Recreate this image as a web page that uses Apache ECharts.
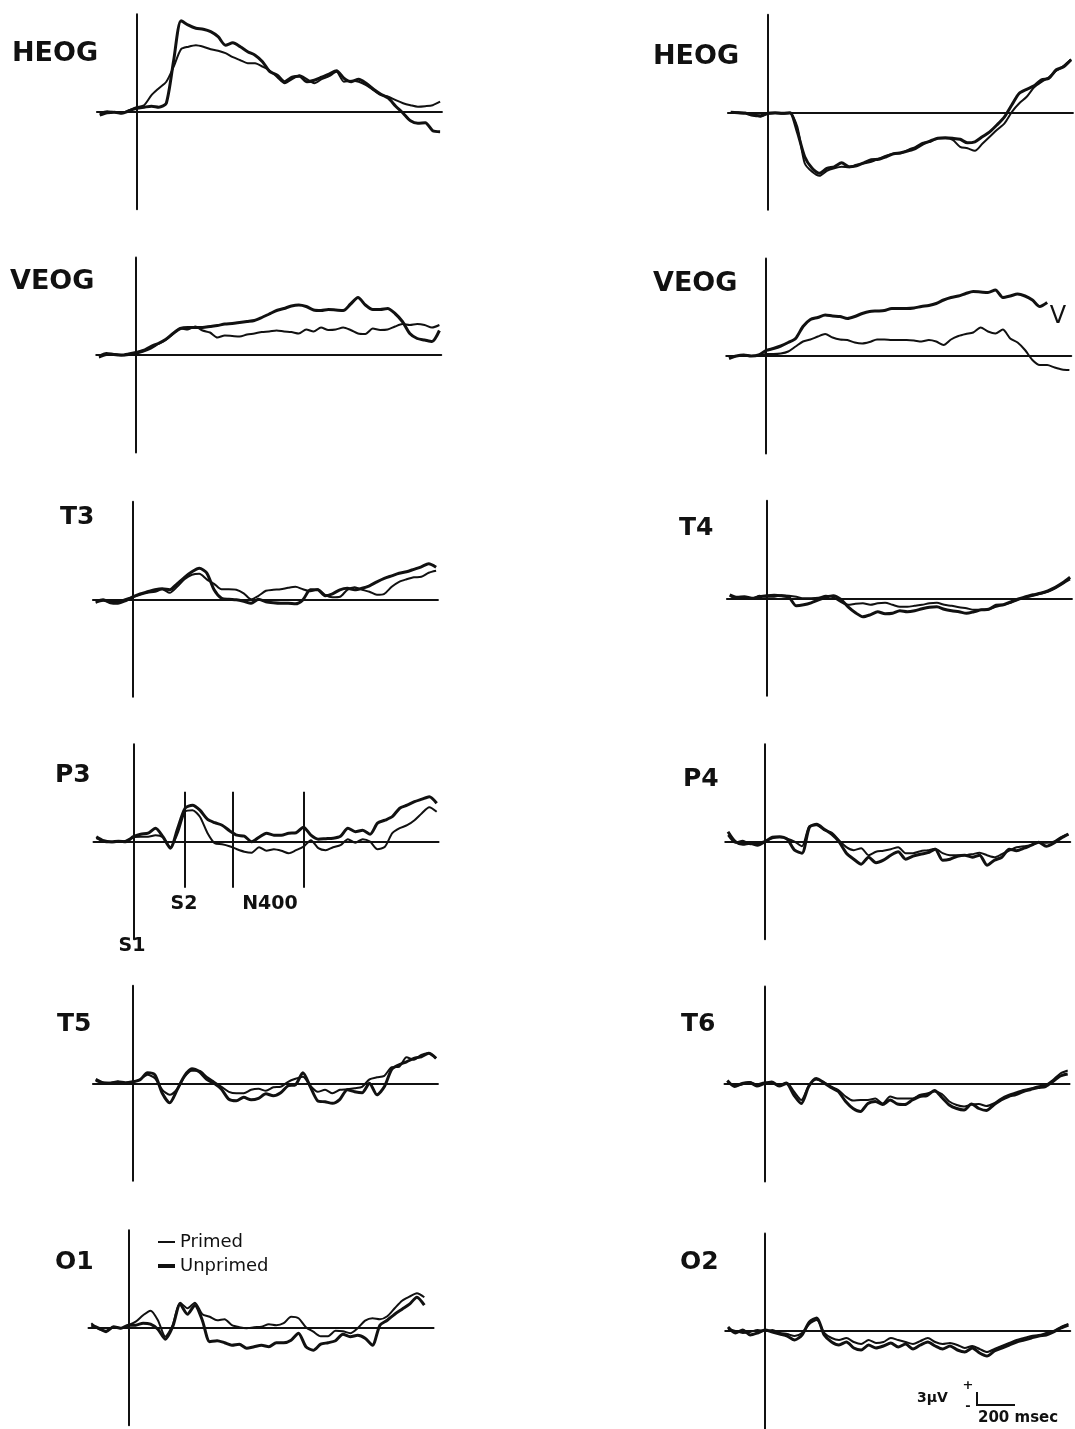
<!DOCTYPE html>
<html>
<head>
<meta charset="utf-8">
<script src="https://cdn.jsdelivr.net/npm/echarts@6/dist/echarts.min.js"></script>
<style>
  html, body { margin: 0; background: #fff; }
  #chart { width: 1075px; height: 1429px; }
</style>
</head>
<body>
<div id="chart"></div>
<script>
// time of each sample, ms from S1
const times = [-200, -160, -120, -80, -40, 0, 40, 80, 120, 160, 200, 240, 280, 320, 360, 400,
  440, 480, 520, 560, 600, 640, 680, 720, 760, 800, 840, 880, 920, 960, 1000, 1040, 1080,
  1120, 1160, 1200, 1240, 1280, 1320, 1360, 1400, 1440, 1480, 1520, 1560, 1600, 1640];

// amplitudes in µV, positive up
const heogLUnprimed = [-0.7,-0.2,-0.1,-0.3,0.2,0.7,0.9,1.1,0.9,1.7,10.3,18.2,17.3,16.7,16.5,16.0,15.0,13.3,13.8,13.0,12.0,11.3,10.0,8.0,7.3,6.0,6.9,7.1,6.0,6.3,6.9,7.5,8.2,6.7,6.0,6.5,5.7,4.5,3.5,2.7,1.1,-0.3,-1.8,-2.3,-2.2,-3.8,-4.0];
const heogLPrimed = [-0.3,0.1,-0.1,-0.2,0.3,0.9,1.3,3.3,4.7,6.0,9.0,12.5,13.0,13.3,13.0,12.5,12.2,11.7,10.9,10.3,9.7,9.7,9.0,8.2,6.9,5.7,6.5,7.3,6.5,5.7,6.5,7.1,8.0,6.0,6.2,6.0,5.3,4.3,3.3,3.0,2.3,1.7,1.3,1.0,1.1,1.3,2.0];
const heogRUnprimed = [0,-0.1,-0.2,-0.6,-0.7,-0.2,-0.1,-0.2,-0.1,-3.9,-8.9,-11.2,-12.2,-11.2,-10.9,-10.1,-10.9,-10.7,-10.1,-9.5,-9.4,-8.9,-8.3,-8.1,-7.7,-7.2,-6.3,-5.7,-5.2,-5.1,-5.2,-5.4,-6.1,-5.9,-4.9,-3.9,-2.5,-0.9,1.5,3.8,4.6,5.3,6.5,6.8,8.5,9.1,10.5];
const heogRPrimed = [-0.1,0,-0.1,-0.3,-0.9,-0.3,-0.2,-0.3,-0.2,-2.9,-10.2,-11.9,-12.7,-11.7,-11.2,-10.9,-11.0,-10.5,-10.2,-9.9,-9.3,-8.7,-8.3,-8.2,-7.5,-6.9,-6.1,-5.9,-5.2,-5.2,-5.5,-6.9,-7.2,-7.7,-6.3,-4.9,-3.5,-2.2,0.1,1.8,3.1,5.0,6.1,7.0,8.3,9.3,10.6];
const veogLUnprimed = [-0.3,0.3,0.1,0,0.2,0.5,0.9,1.7,2.3,3.1,4.3,5.3,5.5,5.5,5.5,5.7,5.9,6.2,6.3,6.5,6.7,6.9,7.5,8.2,8.9,9.3,9.8,10.0,9.7,9.0,8.9,9.1,9.0,8.9,10.2,11.5,10.0,9.1,9.1,9.3,8.3,6.7,4.3,3.3,3.0,2.7,4.9];
const veogLPrimed = [-0.5,0,0.2,-0.1,0,0.3,0.7,1.3,2.2,3.0,4.2,5.3,5.1,5.7,4.9,4.5,3.5,3.9,3.8,3.7,4.1,4.3,4.6,4.7,4.9,4.7,4.6,4.3,5.1,4.7,5.5,5.0,5.1,5.5,5.0,4.3,4.2,5.3,5.0,5.1,5.7,6.2,6.0,6.2,6.0,5.5,6.0];
const veogRUnprimed = [-0.5,0,0.2,0,0.2,1.1,1.5,2.0,2.7,3.5,5.9,7.3,7.7,8.2,8.0,7.9,7.5,7.9,8.5,8.9,9.0,9.1,9.5,9.5,9.5,9.6,9.9,10.1,10.5,11.2,11.7,12.0,12.5,12.9,12.8,12.7,13.2,11.7,12.0,12.4,12.0,11.2,9.9,10.7,null,null,null];
const veogRPrimed = [-0.3,0,0.1,0,0.1,0.4,0.4,0.5,0.9,1.9,2.9,3.3,3.9,4.4,3.7,3.3,3.2,2.7,2.5,2.8,3.3,3.3,3.2,3.2,3.2,3.1,2.9,3.2,2.9,2.2,3.3,4.0,4.4,4.7,5.7,4.9,4.5,5.3,3.5,2.7,1.2,-0.8,-1.8,-1.8,-2.3,-2.7,-2.8];
const t3Unprimed = [-0.5,-0.1,-0.7,-0.8,-0.3,0.5,1.1,1.5,1.9,2.1,1.9,3.1,4.4,5.5,6.2,5.3,1.9,0.2,0,-0.1,-0.4,-0.8,0,-0.5,-0.7,-0.8,-0.8,-0.9,-0.1,1.9,1.9,0.7,1.1,1.9,2.2,1.9,2.2,2.7,3.5,4.2,4.7,5.2,5.5,6.0,6.5,7.1,6.4];
const t3Primed = [-0.7,-0.3,-0.5,-0.5,0,0.4,0.9,1.3,1.5,2.0,1.3,2.5,4.0,4.9,5.1,4.0,3.1,2.0,2.0,1.9,1.2,0,0.7,1.7,1.9,2.0,2.3,2.5,2.0,1.6,2.0,0.9,0.4,0.5,1.9,2.4,1.9,1.5,0.9,1.1,2.5,3.5,4.0,4.4,4.5,5.3,5.7];
const t4Unprimed = [0.7,0.2,0.3,0,0.3,0.5,0.6,0.5,0.2,-1.5,-1.3,-0.9,-0.3,0.2,0.5,-0.2,-1.7,-2.9,-3.7,-3.3,-2.7,-3.1,-3.0,-2.5,-2.7,-2.5,-2.1,-1.8,-1.7,-2.2,-2.5,-2.7,-3.0,-2.7,-2.3,-2.2,-1.4,-1.3,-0.7,-0.1,0.3,0.7,1.0,1.5,2.2,3.1,4.2];
const t4Primed = [0.5,0,0.2,-0.1,0.5,0.3,0.3,0.6,0.5,0.3,0,0,0.1,0.5,0.2,-0.7,-1.3,-1.1,-1.0,-1.3,-1.0,-0.9,-1.3,-1.7,-1.7,-1.5,-1.3,-1.0,-0.9,-1.3,-1.5,-1.8,-2.0,-2.3,-2.3,-2.2,-1.7,-1.3,-0.9,-0.3,0.2,0.5,0.9,1.3,2.0,2.9,3.8];
const p3Unprimed = [1.0,0.2,0,0.1,0,1.0,1.5,1.7,2.7,1.0,-1.3,2.7,6.7,7.3,6.3,4.5,3.8,3.3,2.2,1.3,1.1,0,0.9,1.7,1.3,1.3,1.7,1.8,2.9,1.3,0.5,0.6,0.7,1.1,2.7,2.0,2.3,1.5,3.7,4.3,5.0,6.7,7.3,8.0,8.5,9.0,7.7];
const p3Primed = [0.7,0,-0.1,0,0.2,0.9,1.0,1.0,1.3,0.9,-1.1,1.7,6.0,6.3,5.0,1.8,-0.3,-0.5,-0.9,-1.5,-2.0,-2.2,-1.1,-1.8,-1.5,-1.8,-2.3,-1.7,-1.0,0.3,-1.3,-1.7,-1.1,-0.7,0.5,-0.2,0.5,0,-1.5,-1.0,1.7,2.7,3.3,4.3,5.7,6.9,6.0];
const p4Unprimed = [2.0,0,-0.5,-0.3,-0.7,0,0.9,1.0,0.5,-1.7,-2.3,2.9,3.5,2.5,1.5,0,-2.3,-3.5,-4.5,-3.1,-4.2,-3.7,-2.7,-2.0,-3.5,-2.9,-2.5,-2.2,-1.5,-3.7,-3.5,-2.9,-2.7,-3.1,-2.7,-4.7,-3.7,-3.1,-1.5,-1.8,-1.3,-0.7,-0.1,-0.9,-0.3,0.7,1.5];
const p4Primed = [1.3,-0.2,0.2,-0.5,-0.3,0.1,0.7,0.9,0.6,0,-0.9,3.1,3.3,2.3,1.8,0.3,-1.1,-1.7,-1.3,-2.7,-2.0,-1.8,-1.5,-1.1,-2.3,-2.3,-1.9,-1.7,-1.4,-2.3,-2.7,-2.7,-2.7,-2.5,-2.2,-2.7,-3.1,-2.5,-1.8,-1.1,-0.9,-0.7,-0.1,-0.2,0,0.9,1.5];
const t5Unprimed = [0.8,0.1,0,0.3,0.1,0.3,0.7,2.1,1.7,-2.0,-3.9,-1.3,1.5,2.9,2.3,0.8,0,-1.2,-3.2,-3.5,-2.8,-3.3,-3.0,-2.1,-2.5,-1.9,-0.5,-0.3,2.1,-0.7,-3.5,-3.7,-4.0,-3.2,-1.3,-1.7,-1.9,0,-2.3,-0.7,2.8,3.7,4.3,5.0,5.3,6.0,5.0];
const t5Primed = [0.5,0.1,0.1,0.3,0,0.2,0.8,1.7,1.0,-1.3,-2.3,-1.2,1.3,2.5,2.5,1.3,0.3,-0.7,-1.7,-2.0,-2.0,-1.3,-1.1,-1.5,-0.8,-0.7,0.3,0.9,1.3,-0.5,-1.7,-1.3,-2.0,-1.3,-1.2,-1.0,-0.7,0.8,1.2,1.5,3.2,3.3,5.2,4.7,5.7,6.0,5.0];
const t6Unprimed = [0.7,-0.5,0.1,0.3,-0.4,0.1,0.4,-0.4,0.1,-2.2,-3.9,-0.5,1.1,0.3,-0.7,-1.5,-3.5,-4.9,-5.5,-3.9,-3.5,-4.1,-3.2,-4.0,-4.1,-3.2,-2.5,-2.3,-1.3,-2.7,-4.2,-4.9,-5.2,-4.0,-4.9,-5.3,-4.2,-3.2,-2.5,-2.1,-1.5,-1.1,-0.7,-0.5,0.5,1.6,2.0];
const t6Primed = [0.5,-0.3,-0.1,0.4,-0.1,0.3,0.1,-0.2,0.3,-1.5,-3.2,-0.4,0.9,0.4,-0.5,-1.2,-2.5,-3.3,-3.2,-3.2,-2.9,-3.9,-2.5,-2.9,-2.9,-2.9,-2.2,-1.9,-1.5,-2.0,-3.5,-4.2,-4.5,-4.1,-4.0,-4.4,-3.9,-2.9,-2.2,-1.7,-1.2,-0.9,-0.5,-0.2,0.8,2.1,2.7];
const o1Primed = [0.9,-0.3,-0.6,0.1,-0.1,0.5,1.2,2.5,3.4,1.5,-1.8,0.5,5.0,3.9,5.0,2.7,2.2,1.5,1.7,0.5,0.1,-0.1,0.1,0.2,0.7,0.5,0.9,2.2,1.9,0.1,-0.8,-1.7,-1.7,-0.6,-0.7,-1.1,-0.1,1.4,1.9,1.7,2.3,3.9,5.4,6.2,6.9,6.1,null];
const o1Unprimed = [0.5,-0.1,-0.8,0.2,-0.1,0.5,0.5,0.9,0.7,-0.3,-2.3,0.2,4.7,2.7,4.5,1.5,-2.8,-2.6,-3.0,-3.5,-3.3,-4.1,-3.8,-3.5,-3.8,-3.0,-3.0,-2.5,-1.1,-3.8,-4.5,-3.3,-3.0,-2.6,-1.3,-1.8,-1.5,-2.1,-3.5,0.5,1.5,2.7,3.7,4.7,6.1,4.5,null];
const o2Unprimed = [0.8,-0.4,0.2,-0.8,-0.4,0.2,-0.2,-0.6,-1.0,-1.8,-0.8,1.8,2.6,-0.8,-2.2,-2.8,-2.2,-3.4,-3.8,-2.8,-3.4,-3.0,-2.4,-3.2,-2.6,-3.6,-2.8,-2.2,-3.0,-3.6,-3.0,-3.8,-4.2,-3.4,-4.4,-5.0,-4.0,-3.4,-2.8,-2.2,-1.8,-1.4,-1.0,-0.8,-0.2,0.6,1.2];
const o2Primed = [0.4,0,-0.4,-0.2,0.2,0,0.2,-0.4,-0.6,-1.0,-0.4,1.4,2.2,-0.4,-1.4,-1.8,-1.4,-2.2,-2.6,-1.8,-2.4,-2.2,-1.4,-1.8,-2.2,-2.6,-2.0,-1.4,-2.2,-2.6,-2.4,-2.8,-3.4,-3.0,-3.6,-4.2,-3.6,-3.0,-2.4,-1.8,-1.4,-1.0,-0.8,-0.4,0,0.8,1.4];

// S2 and N400 window markers on P3 (ms)
const p3Marks = [280, 540, 920];
const p3MarkNames = ['S2', 'N400 start', 'N400 end'];

const ink = '#111';
const MS_PX = 0.185;   // 200 ms = 37 px
const UV_PX = 5;       // 3 µV = 15 px
const T_MIN = -215, T_MAX = 1650, V_LIM = 19.5;

const panels = [
  { label: 'HEOG', s1x: 136.7, base: 111.7, lx: 12, ly: 54, thin: heogLPrimed, thick: heogLUnprimed },
  { label: 'VEOG', s1x: 136, base: 355, lx: 10, ly: 282, thin: veogLPrimed, thick: veogLUnprimed },
  { label: 'T3', s1x: 132.7, base: 599.3, lx: 60, ly: 517, thin: t3Primed, thick: t3Unprimed },
  { label: 'P3', s1x: 133.3, base: 841.7, lx: 55, ly: 775, thin: p3Primed, thick: p3Unprimed, marks: true },
  { label: 'T5', s1x: 132.7, base: 1083.3, lx: 57, ly: 1024, thin: t5Primed, thick: t5Unprimed },
  { label: 'O1', s1x: 128.3, base: 1327.7, lx: 55, ly: 1262, thin: o1Primed, thick: o1Unprimed },
  { label: 'HEOG', s1x: 767.7, base: 112.3, lx: 653, ly: 57, thin: heogRPrimed, thick: heogRUnprimed },
  { label: 'VEOG', s1x: 766, base: 356, lx: 653, ly: 284, thin: veogRPrimed, thick: veogRUnprimed },
  { label: 'T4', s1x: 766.7, base: 598.3, lx: 679, ly: 528, thin: t4Primed, thick: t4Unprimed },
  { label: 'P4', s1x: 765, base: 841.7, lx: 683, ly: 779, thin: p4Primed, thick: p4Unprimed },
  { label: 'T6', s1x: 764.3, base: 1084, lx: 681, ly: 1024, thin: t6Primed, thick: t6Unprimed },
  { label: 'O2', s1x: 765, base: 1331, lx: 680, ly: 1262, thin: o2Primed, thick: o2Unprimed }
];

const pairs = arr => times.map((t, k) => [t, arr[k]]);
const hidden = { axisTick: { show: false }, axisLabel: { show: false }, splitLine: { show: false } };

const grid = [], xAxis = [], yAxis = [], series = [];
const graphic = [];

panels.forEach((p, i) => {
  grid.push({
    left: p.s1x + T_MIN * MS_PX,
    top: p.base - V_LIM * UV_PX,
    width: (T_MAX - T_MIN) * MS_PX,
    height: 2 * V_LIM * UV_PX
  });
  xAxis.push(Object.assign({
    gridIndex: i, type: 'value', min: T_MIN, max: T_MAX,
    axisLine: { show: true, onZero: true, lineStyle: { color: ink, width: 2 } }
  }, hidden));
  yAxis.push(Object.assign({
    gridIndex: i, type: 'value', min: -V_LIM, max: V_LIM,
    axisLine: { show: true, onZero: true, lineStyle: { color: ink, width: 2 } }
  }, hidden));

  const common = {
    type: 'line', xAxisIndex: i, yAxisIndex: i, symbol: 'none', smooth: 0.25,
    silent: true, itemStyle: { color: ink }
  };
  series.push(Object.assign({}, common, {
    name: 'Primed', data: pairs(p.thin), lineStyle: { color: ink, width: 2 }
  }));
  const thick = Object.assign({}, common, {
    name: 'Unprimed', data: pairs(p.thick), lineStyle: { color: ink, width: 3 }
  });
  if (p.marks) {
    thick.markLine = {
      symbol: 'none', silent: true, label: { show: false },
      lineStyle: { color: ink, width: 2, type: 'solid' },
      data: p3Marks.map((t, j) => [
        { name: p3MarkNames[j], coord: [t, 10] },
        { coord: [t, -9.2] }
      ])
    };
  }
  series.push(thick);

  const size = p.label.length > 2 ? 27 : 25;
  graphic.push({
    type: 'text',
    style: { text: p.label, x: p.lx, y: p.ly, font: 'bold ' + size + 'px "DejaVu Sans"', fill: ink, textVerticalAlign: 'middle' }
  });
});

const small = (text, x, y, font, align) => ({
  type: 'text',
  style: { text, x, y, font, fill: ink, textAlign: align || 'left', textVerticalAlign: 'middle' }
});

graphic.push(
  small('S2', 184, 904, 'bold 19px "DejaVu Sans"', 'center'),
  small('N400', 270, 904, 'bold 19px "DejaVu Sans"', 'center'),
  small('S1', 132, 946, 'bold 19px "DejaVu Sans"', 'center'),
  small('V', 1058, 317, '24px "DejaVu Sans"', 'center'),
  small('3µV', 917, 1398, 'bold 14px "DejaVu Sans"'),
  small('+', 968, 1386, 'bold 13px "DejaVu Sans"', 'center'),
  small('-', 968, 1407, 'bold 13px "DejaVu Sans"', 'center'),
  small('200 msec', 978, 1418, 'bold 15px "DejaVu Sans"'),
  {
    type: 'polyline',
    shape: { points: [[977, 1392], [977, 1405], [1015, 1405]] },
    style: { stroke: ink, lineWidth: 2, fill: null }
  }
);

const legendText = { color: ink, fontSize: 18, fontFamily: 'DejaVu Sans' };
const option = {
  backgroundColor: '#fff',
  animation: false,
  grid, xAxis, yAxis, series, graphic,
  legend: [
    { data: ['Primed'], left: 153, top: 1228, icon: 'rect', itemWidth: 17, itemHeight: 2,
      selectedMode: false, textStyle: legendText },
    { data: ['Unprimed'], left: 153, top: 1252, icon: 'rect', itemWidth: 17, itemHeight: 4,
      selectedMode: false, textStyle: legendText }
  ]
};

const chart = echarts.init(document.getElementById('chart'));
chart.setOption(option);
</script>
</body>
</html>
